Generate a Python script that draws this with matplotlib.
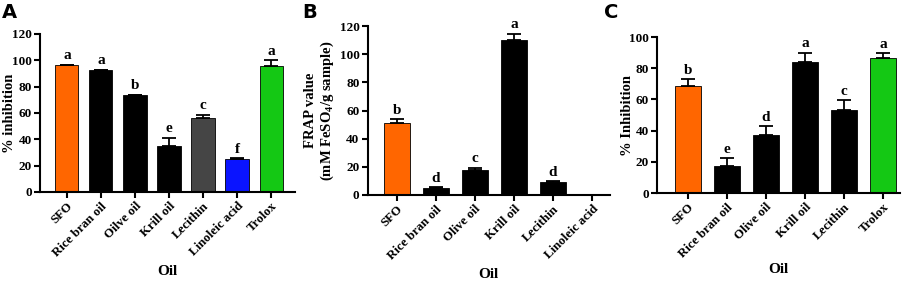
import matplotlib.pyplot as plt

plt.rcParams['font.family'] = ['Liberation Serif', 'DejaVu Serif']
plt.rcParams['mathtext.fontset'] = 'custom'
plt.rcParams['mathtext.rm'] = 'Liberation Serif:bold'
plt.rcParams['mathtext.bf'] = 'Liberation Serif:bold'

# panel A - % inhibition
cats_a = ["SFO", "Rice bran oil", "Oilve oil", "Krill oil", "Lecithin", "Linoleic acid", "Trolox"]
vals_a = [96.3, 92.3, 73.5, 35.0, 56.0, 24.8, 95.8]
err_a = [0.4, 0.5, 0.4, 6.3, 2.7, 0.9, 4.2]
let_a = ["a", "a", "b", "e", "c", "f", "a"]
col_a = ["#ff6600", "#000000", "#000000", "#000000", "#454545", "#0a14ff", "#14c814"]

# panel B - FRAP
cats_b = ["SFO", "Rice bran oil", "Olive oil", "Krill oil", "Lecithin", "Linoleic acid"]
vals_b = [51.4, 5.0, 17.8, 110.3, 9.0, 0.0]
err_b = [2.3, 0.4, 1.6, 4.3, 0.7, 0.0]
let_b = ["b", "d", "c", "a", "d", ""]
col_b = ["#ff6600", "#000000", "#000000", "#000000", "#000000", "#000000"]

# panel C - % Inhibition
cats_c = ["SFO", "Rice bran oil", "Olive oil", "Krill oil", "Lecithin", "Trolox"]
vals_c = [68.7, 17.6, 37.3, 84.3, 53.0, 86.9]
err_c = [4.5, 4.9, 5.4, 5.8, 6.4, 2.6]
let_c = ["b", "e", "d", "a", "c", "a"]
col_c = ["#ff6600", "#000000", "#000000", "#000000", "#000000", "#14c814"]

fig = plt.figure(figsize=(9.13, 2.83), dpi=100)


def panel(rect, cats, vals, errs, letters, colors, ymax, ylabel, xlim, tag, tagpos, ylab_x, off, xlab_pos):
    ax = fig.add_axes(rect)
    x = range(len(cats))
    ax.bar(x, vals, width=0.68, color=colors, edgecolor="black", linewidth=0.6, zorder=2)
    for xi, v, e, l in zip(x, vals, errs, letters):
        if e > 0:
            ax.errorbar(xi, v, yerr=[[0], [e]], fmt="none", ecolor="black",
                        elinewidth=1.3, capsize=5, capthick=1.3, zorder=3)
        if l:
            ax.text(xi, v + e + off, l, ha="center", va="bottom",
                    fontsize=11, fontweight="bold")
    ax.set_ylim(0, ymax)
    ax.set_yticks(range(0, ymax + 1, 20))
    ax.set_xlim(*xlim)
    ax.set_xticks(list(x))
    ax.set_xticklabels(cats, rotation=45, ha="right", rotation_mode="anchor",
                       fontsize=9.3, fontweight="bold")
    for t in ax.get_yticklabels():
        t.set_fontweight("bold")
        t.set_fontsize(9.5)
    for s in ["top", "right"]:
        ax.spines[s].set_visible(False)
    for s in ["left", "bottom"]:
        ax.spines[s].set_linewidth(1.5)
    ax.tick_params(width=1.5, length=4, pad=2)
    ax.set_xlabel("Oil", fontsize=11, fontweight="bold")
    # x label sits near the bottom of the figure
    ax.xaxis.set_label_coords(xlab_pos[0] / 913, 1 - xlab_pos[1] / 283,
                              transform=fig.transFigure)
    ax.set_ylabel(ylabel, fontsize=10.5, fontweight="bold")
    ax.yaxis.set_label_coords(ylab_x, 0.5)
    fig.text(tagpos[0], tagpos[1], tag, fontsize=14, fontweight="bold",
             family=["DejaVu Sans"], ha="left", va="top")
    return ax


panel([0.0438, 0.3216, 0.2792, 0.5584], cats_a, vals_a, err_a, let_a, col_a, 120,
      "% inhibition", (-0.79, 6.7), "A", (0.002, 0.99), -0.095, 2, (167, 265))
panel([0.403, 0.311, 0.265, 0.597], cats_b, vals_b, err_b, let_b, col_b, 120,
      "FRAP value\n(mM FeSO$_4$/g sample)", (-0.74, 5.46), "B", (0.331, 0.99), -0.13, 2, (488, 268))
panel([0.7196, 0.318, 0.2664, 0.551], cats_c, vals_c, err_c, let_c, col_c, 100,
      "% Inhibition", (-0.79, 5.44), "C", (0.662, 0.99), -0.095, 1.5, (778, 263))

fig.savefig("out.png", dpi=100)
